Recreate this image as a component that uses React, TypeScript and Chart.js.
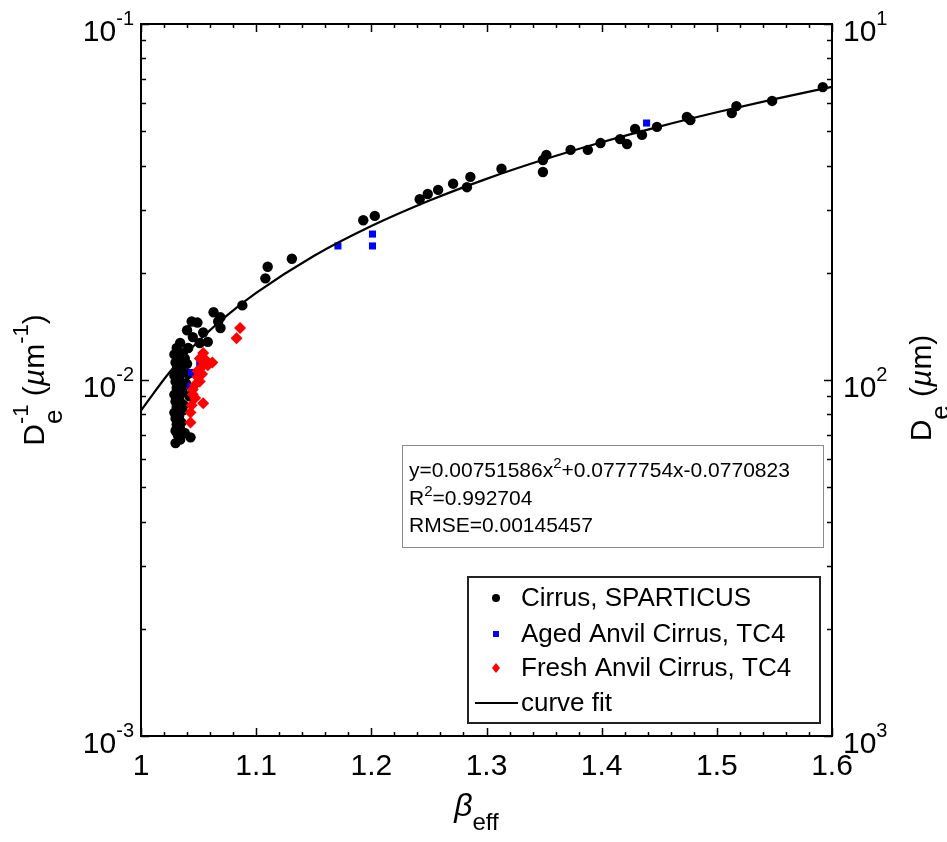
import React, { useEffect, useRef } from 'react';
import { Chart, registerables } from 'chart.js';
Chart.register(...registerables);

const FONT = '"Liberation Sans", Arial, Helvetica, sans-serif';

// Cirrus, SPARTICUS
const cirrusX = [1.592, 1.548, 1.517, 1.513, 1.477, 1.474, 1.448, 1.435, 1.429, 1.422, 1.416, 1.399, 1.388, 1.373, 1.352, 1.349, 1.349, 1.313, 1.286, 1.283, 1.271, 1.258, 1.249, 1.242, 1.203, 1.193, 1.131, 1.110, 1.108, 1.088, 1.069, 1.063, 1.067, 1.069, 1.049, 1.044, 1.040, 1.054, 1.051, 1.045, 1.034, 1.031, 1.036, 1.041, 1.058, 1.029, 1.033, 1.030, 1.035, 1.031, 1.036, 1.029, 1.033, 1.030, 1.035, 1.031, 1.036, 1.029, 1.033, 1.030, 1.035, 1.031, 1.036, 1.029, 1.033, 1.030, 1.035, 1.031, 1.034, 1.030, 1.032, 1.030, 1.034, 1.043, 1.038, 1.040, 1.041, 1.039, 1.042, 1.038, 1.037];
const cirrusY = [0.0665, 0.0608, 0.0588, 0.0562, 0.0537, 0.0548, 0.0514, 0.0488, 0.0507, 0.0460, 0.0475, 0.0463, 0.0443, 0.0443, 0.0429, 0.0415, 0.0384, 0.0392, 0.0372, 0.0348, 0.0356, 0.0342, 0.0333, 0.0322, 0.0289, 0.0281, 0.0219, 0.0208, 0.0193, 0.0162, 0.0150, 0.0155, 0.0146, 0.0140, 0.0145, 0.0146, 0.0138, 0.0136, 0.0127, 0.0132, 0.0127, 0.0123, 0.0119, 0.0123, 0.0128, 0.0118, 0.0115, 0.0112, 0.0110, 0.0107, 0.0105, 0.0103, 0.0101, 0.0099, 0.0097, 0.0095, 0.0093, 0.0091, 0.0089, 0.0087, 0.0086, 0.0084, 0.0082, 0.0081, 0.0079, 0.0078, 0.0076, 0.0075, 0.0073, 0.0072, 0.0070, 0.00665, 0.0068, 0.0069, 0.0071, 0.0111, 0.0104, 0.0098, 0.0090, 0.0115, 0.0085];

// Aged Anvil Cirrus, TC4
const agedX = [1.171, 1.201, 1.201, 1.439, 1.051, 1.044, 1.043];
const agedY = [0.0238, 0.0257, 0.0238, 0.0527, 0.0112, 0.0105, 0.0096];

// Fresh Anvil Cirrus, TC4
const freshX = [1.086, 1.083, 1.054, 1.062, 1.058, 1.053, 1.049, 1.051, 1.045, 1.045, 1.054, 1.044, 1.043, 1.043, 1.057, 1.049, 1.053, 1.047, 1.056, 1.051, 1.047];
const freshY = [0.0140, 0.0131, 0.0119, 0.0112, 0.0110, 0.0109, 0.0102, 0.0099, 0.0094, 0.0091, 0.0086, 0.0085, 0.0081, 0.0076, 0.0111, 0.0106, 0.0104, 0.0097, 0.0114, 0.0115, 0.0089];

// curve fit
const fitX = [1.0, 1.025, 1.05, 1.075, 1.1, 1.15, 1.2, 1.25, 1.3, 1.35, 1.4, 1.45, 1.5, 1.55, 1.6];
const fitY = [0.00821, 0.01053, 0.01287, 0.01521, 0.01756, 0.0223, 0.02707, 0.03188, 0.03673, 0.04161, 0.04653, 0.05149, 0.05649, 0.06153, 0.0666];

const xTicks = [1, 1.1, 1.2, 1.3, 1.4, 1.5, 1.6];
const xTickLabels = ['1', '1.1', '1.2', '1.3', '1.4', '1.5', '1.6'];
const yTicks = [0.001, 0.01, 0.1];
const yTickExp = ['-3', '-2', '-1'];
const y2Ticks = [1000, 100, 10];
const y2TickExp = ['3', '2', '1'];

const legendLabels = ['Cirrus, SPARTICUS', 'Aged Anvil Cirrus, TC4', 'Fresh Anvil Cirrus, TC4', 'curve fit'];
const fitEquation = ['y=0.00751586x', '2', '+0.0777754x-0.0770823'];
const fitR2 = ['R', '2', '=0.992704'];
const fitRmse = 'RMSE=0.00145457';

type Part = { t: string; s: number; dy?: number; it?: boolean; stack?: boolean };

function font(p: Part) {
  return `${p.it ? 'italic ' : ''}${p.s}px ${FONT}`;
}

function partsWidth(ctx: CanvasRenderingContext2D, parts: Part[]) {
  let w = 0;
  let pend = 0;
  for (const p of parts) {
    ctx.font = font(p);
    const m = ctx.measureText(p.t).width;
    if (p.stack) { pend = m; continue; }
    w += Math.max(m, pend);
    pend = 0;
  }
  return w + pend;
}

function drawParts(ctx: CanvasRenderingContext2D, parts: Part[], x: number, y: number) {
  let cx = x;
  let pend = 0;
  ctx.textBaseline = 'alphabetic';
  ctx.textAlign = 'left';
  for (const p of parts) {
    ctx.font = font(p);
    const m = ctx.measureText(p.t).width;
    ctx.fillText(p.t, cx, y + (p.dy || 0));
    if (p.stack) { pend = m; continue; }
    cx += Math.max(m, pend);
    pend = 0;
  }
}

const decor = {
  id: 'decor',
  afterDraw(chart: any) {
    const { ctx, chartArea: a, scales } = chart;
    const xs = scales.x, ys = scales.y, y2 = scales.y2;
    ctx.save();
    ctx.fillStyle = '#000';
    ctx.strokeStyle = '#000';

    // inward ticks
    ctx.lineWidth = 1.5;
    ctx.beginPath();
    for (let i = 0; i <= 30; i++) {
      const v = 1 + i * 0.02;
      const px = Math.round(xs.getPixelForValue(v)) + 0.5;
      const len = i % 5 === 0 ? 8 : 4;
      ctx.moveTo(px, a.bottom); ctx.lineTo(px, a.bottom - len);
      ctx.moveTo(px, a.top); ctx.lineTo(px, a.top + len);
    }
    for (let d = -3; d <= -1; d++) {
      for (let k = 1; k <= 9; k++) {
        if (d === -1 && k > 1) break;
        const v = k * Math.pow(10, d);
        const py = Math.round(ys.getPixelForValue(v)) + 0.5;
        const len = k === 1 ? 8 : 5;
        ctx.moveTo(a.left, py); ctx.lineTo(a.left + len, py);
        const py2 = Math.round(y2.getPixelForValue(1 / v)) + 0.5;
        ctx.moveTo(a.right, py2); ctx.lineTo(a.right - len, py2);
      }
    }
    ctx.stroke();

    // frame
    ctx.lineWidth = 2;
    ctx.strokeRect(a.left, a.top, a.right - a.left, a.bottom - a.top);

    // x tick labels
    ctx.font = `30px ${FONT}`;
    ctx.textAlign = 'center';
    ctx.textBaseline = 'middle';
    xTicks.forEach((v, i) => {
      ctx.fillText(xTickLabels[i], xs.getPixelForValue(v), a.bottom + 31);
    });

    // left y tick labels
    yTicks.forEach((v, i) => {
      const py = ys.getPixelForValue(v);
      const parts: Part[] = [{ t: '10', s: 30, dy: 0 }, { t: yTickExp[i], s: 20, dy: -16 }];
      const w = partsWidth(ctx, parts);
      drawParts(ctx, parts, a.left - 7 - w, py + 17);
    });
    // right y tick labels
    y2Ticks.forEach((v, i) => {
      const py = y2.getPixelForValue(v);
      const parts: Part[] = [{ t: '10', s: 30, dy: 0 }, { t: y2TickExp[i], s: 20, dy: -16 }];
      drawParts(ctx, parts, a.right + 11, py + 17);
    });

    // x title
    {
      const parts: Part[] = [{ t: 'β', s: 32, it: true }, { t: 'eff', s: 24, dy: 14 }];
      const w = partsWidth(ctx, parts);
      const cx = (a.left + a.right) / 2;
      drawParts(ctx, parts, cx - w / 2 - 10, a.bottom + 80);
    }

    // left title
    {
      const parts: Part[] = [
        { t: 'D', s: 30 }, { t: 'e', s: 26, dy: 18, stack: true }, { t: '-1', s: 22, dy: -16 },
        { t: ' (', s: 30 }, { t: 'µ', s: 30, it: true }, { t: 'm', s: 30 }, { t: '-1', s: 22, dy: -16 }, { t: ')', s: 30 },
      ];
      const w = partsWidth(ctx, parts);
      ctx.save();
      ctx.translate(44, (a.top + a.bottom) / 2);
      ctx.rotate(-Math.PI / 2);
      drawParts(ctx, parts, -w / 2, 0);
      ctx.restore();
    }

    // right title
    {
      const parts: Part[] = [
        { t: 'D', s: 30 }, { t: 'e', s: 26, dy: 18 }, { t: ' (', s: 30 }, { t: 'µ', s: 30, it: true }, { t: 'm', s: 30 }, { t: ')', s: 30 },
      ];
      const w = partsWidth(ctx, parts);
      ctx.save();
      ctx.translate(931, (a.top + a.bottom) / 2 + 8);
      ctx.rotate(-Math.PI / 2);
      drawParts(ctx, parts, -w / 2, 0);
      ctx.restore();
    }

    // fit equation box
    {
      const bx = 402, by = 445, bw = 421, bh = 102;
      ctx.fillStyle = '#fff';
      ctx.fillRect(bx, by, bw, bh);
      ctx.strokeStyle = '#8a8a8a';
      ctx.lineWidth = 1;
      ctx.strokeRect(bx + 0.5, by + 0.5, bw, bh);
      ctx.fillStyle = '#000';
      drawParts(ctx, [{ t: fitEquation[0], s: 21 }, { t: fitEquation[1], s: 15, dy: -9 }, { t: fitEquation[2], s: 21 }], bx + 7, by + 32);
      drawParts(ctx, [{ t: fitR2[0], s: 21 }, { t: fitR2[1], s: 15, dy: -9 }, { t: fitR2[2], s: 21 }], bx + 7, by + 60);
      drawParts(ctx, [{ t: fitRmse, s: 21 }], bx + 7, by + 87);
    }

    // legend
    {
      const lx = 468, ly = 577, lw = 352, lh = 146;
      ctx.fillStyle = '#fff';
      ctx.fillRect(lx, ly, lw, lh);
      ctx.strokeStyle = '#222';
      ctx.lineWidth = 2;
      ctx.strokeRect(lx, ly, lw, lh);
      const rows = [598, 634, 668, 703];
      const mx = 496;
      ctx.fillStyle = '#000';
      ctx.beginPath(); ctx.arc(mx, rows[0], 4, 0, Math.PI * 2); ctx.fill();
      ctx.fillStyle = '#0000ff';
      ctx.fillRect(mx - 3, rows[1] - 3, 6, 6);
      ctx.fillStyle = '#ff0000';
      ctx.beginPath();
      ctx.moveTo(mx, rows[2] - 5); ctx.lineTo(mx + 4, rows[2]); ctx.lineTo(mx, rows[2] + 5); ctx.lineTo(mx - 4, rows[2]);
      ctx.closePath(); ctx.fill();
      ctx.strokeStyle = '#000';
      ctx.lineWidth = 2;
      ctx.beginPath(); ctx.moveTo(475, rows[3]); ctx.lineTo(518, rows[3]); ctx.stroke();
      ctx.fillStyle = '#000';
      ctx.font = `26px ${FONT}`;
      ctx.textAlign = 'left';
      ctx.textBaseline = 'middle';
      legendLabels.forEach((t, i) => ctx.fillText(t, 521, rows[i] + 1));
    }
    ctx.restore();
  },
};

function pts(xs: number[], ys: number[]) {
  return xs.map((x, i) => ({ x, y: ys[i] }));
}

export default function App() {
  const ref = useRef<HTMLCanvasElement | null>(null);
  useEffect(() => {
    document.body.style.margin = '0';
    const canvas = ref.current;
    if (!canvas) return;
    const chart = new Chart(canvas, {
      type: 'scatter',
      data: {
        datasets: [
          {
            label: legendLabels[3], data: pts(fitX, fitY), showLine: true, borderColor: '#000', borderWidth: 2.2,
            pointRadius: 0, tension: 0.4, cubicInterpolationMode: 'monotone', order: 1, fill: false,
          } as any,
          {
            label: legendLabels[2], data: pts(freshX, freshY), pointStyle: 'rectRot', pointRadius: 6,
            backgroundColor: '#ff0000', borderColor: '#ff0000', borderWidth: 0, order: 2,
          },
          {
            label: legendLabels[1], data: pts(agedX, agedY), pointStyle: 'rect', pointRadius: 5,
            backgroundColor: '#0000ff', borderColor: '#0000ff', borderWidth: 0, order: 3,
          },
          {
            label: legendLabels[0], data: pts(cirrusX, cirrusY), pointStyle: 'circle', pointRadius: 5.2,
            backgroundColor: '#000', borderColor: '#000', borderWidth: 0, order: 4,
          },
        ],
      },
      options: {
        responsive: false,
        animation: false,
        events: [],
        layout: { padding: { left: 141, right: 115, top: 24, bottom: 106 } },
        plugins: { legend: { display: false }, tooltip: { enabled: false } },
        scales: {
          x: { type: 'linear', min: 1, max: 1.6, display: false },
          y: { type: 'logarithmic', min: 0.001, max: 0.1, display: false },
          y2: { type: 'logarithmic', min: 10, max: 1000, reverse: true, display: false, position: 'right' },
        },
      },
      plugins: [decor],
    });
    return () => chart.destroy();
  }, []);
  return <canvas ref={ref} width={947} height={842} style={{ display: 'block' }} />;
}
